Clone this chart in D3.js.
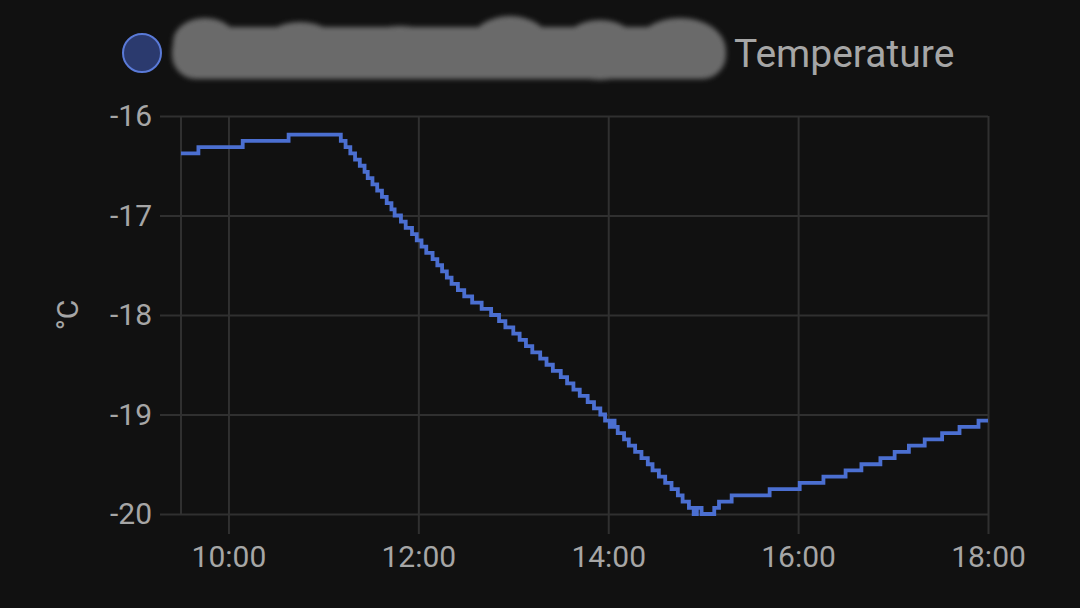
<!DOCTYPE html>
<html>
<head>
<meta charset="utf-8">
<script src="https://cdn.jsdelivr.net/npm/d3@7"></script>
<style>
  html, body { margin: 0; padding: 0; background: #111111; }
  svg { display: block; }
  text { font-family: Roboto, "Noto Sans", sans-serif; }
</style>
</head>
<body>
<svg id="chart" width="1080" height="608"></svg>
<script>
// ---- data ----
const seriesName = "Temperature";
const unitLabel = "°C";
const stepTimes = [
  "09:30","09:41","10:09","10:38","11:11","11:14","11:17","11:20","11:23","11:26",
  "11:28","11:31","11:34","11:37","11:40","11:43","11:45","11:49","11:52","11:56",
  "11:59","12:02","12:05","12:09","12:12","12:15","12:18","12:21","12:25","12:29",
  "12:34","12:40","12:46","12:51","12:55","13:00","13:04","13:08","13:12","13:17",
  "13:21","13:25","13:30","13:34","13:38","13:42","13:47","13:51","13:55","13:58",
  "14:01","14:03","14:04","14:06","14:10","14:13","14:17","14:21","14:25","14:28",
  "14:32","14:36","14:40","14:44","14:47","14:51","14:54","14:56","14:59","15:07",
  "15:10","15:18","15:42","16:01","16:16","16:30","16:40","16:52","17:01","17:10",
  "17:20","17:31","17:42","17:54","18:00"
];
const stepValues = [
  -16.375,-16.3125,-16.25,-16.1875,-16.25,-16.3125,-16.375,-16.4375,-16.5,-16.5625,
  -16.625,-16.6875,-16.75,-16.8125,-16.875,-16.9375,-17.0,-17.0625,-17.125,-17.1875,
  -17.25,-17.3125,-17.375,-17.4375,-17.5,-17.5625,-17.625,-17.6875,-17.75,-17.8125,
  -17.875,-17.9375,-18.0,-18.0625,-18.125,-18.1875,-18.25,-18.3125,-18.375,-18.4375,
  -18.5,-18.5625,-18.625,-18.6875,-18.75,-18.8125,-18.875,-18.9375,-19.0,-19.0625,
  -19.125,-19.0625,-19.125,-19.1875,-19.25,-19.3125,-19.375,-19.4375,-19.5,-19.5625,
  -19.625,-19.6875,-19.75,-19.8125,-19.875,-19.9375,-20.0,-19.9375,-20.0,-19.9375,
  -19.875,-19.8125,-19.75,-19.6875,-19.625,-19.5625,-19.5,-19.4375,-19.375,-19.3125,
  -19.25,-19.1875,-19.125,-19.0625,-19.0625
];
const xDomain = ["09:30", "18:00"];
const xTickLabels = ["10:00","12:00","14:00","16:00","18:00"];
const yDomain = [-20, -16];
const yTickValues = [-16, -17, -18, -19, -20];

// ---- helpers ----
const parseT = s => { const [h, m] = s.split(":").map(Number); return new Date(2024, 0, 1, h, m); };
const data = stepTimes.map((t, i) => ({ t: parseT(t), v: stepValues[i] }));

const svg = d3.select("#chart");
const plot = { left: 181, right: 988, top: 116, bottom: 514 };
const gridColor = "#303030";
const textColor = "#a6a6a6";
const lineColor = "#4b6fd1";

const x = d3.scaleTime().domain(xDomain.map(parseT)).range([plot.left, plot.right]);
const y = d3.scaleLinear().domain(yDomain).range([plot.bottom, plot.top]);

// horizontal grid + left ticks
const yGrid = svg.append("g").attr("transform", `translate(${plot.left},0)`)
  .call(d3.axisLeft(y).tickValues(yTickValues).tickSize(-(plot.right - plot.left)).tickFormat(""));
yGrid.select(".domain").remove();
yGrid.selectAll("line").attr("stroke", gridColor).attr("stroke-width", 2);

const yAxis = svg.append("g").attr("transform", `translate(${plot.left},0)`)
  .call(d3.axisLeft(y).tickValues(yTickValues).tickSize(21).tickPadding(8).tickFormat(d => String(d)));
yAxis.select(".domain").remove();
yAxis.selectAll("line").attr("stroke", gridColor).attr("stroke-width", 2);
yAxis.selectAll("text").attr("fill", textColor).attr("font-size", 30);

// vertical grid + bottom ticks
const xTicks = xTickLabels.map(parseT);
const xGrid = svg.append("g").attr("transform", `translate(0,${plot.bottom})`)
  .call(d3.axisBottom(x).tickValues(xTicks).tickSize(-(plot.bottom - plot.top)).tickFormat(""));
xGrid.select(".domain").remove();
xGrid.selectAll("line").attr("stroke", gridColor).attr("stroke-width", 2);

const xAxis = svg.append("g").attr("transform", `translate(0,${plot.bottom})`)
  .call(d3.axisBottom(x).tickValues(xTicks).tickSize(20).tickPadding(12).tickFormat(d3.timeFormat("%H:%M")));
xAxis.select(".domain").remove();
xAxis.selectAll("line").attr("stroke", gridColor).attr("stroke-width", 2);
xAxis.selectAll("text").attr("fill", textColor).attr("font-size", 30);

// left border
svg.append("line")
  .attr("x1", plot.left).attr("x2", plot.left)
  .attr("y1", plot.top).attr("y2", plot.bottom)
  .attr("stroke", gridColor).attr("stroke-width", 2);

// y title
svg.append("text")
  .attr("transform", `translate(78,${(plot.top + plot.bottom) / 2}) rotate(-90)`)
  .attr("text-anchor", "middle")
  .attr("fill", textColor).attr("font-size", 30)
  .text(unitLabel);

// line
const line = d3.line().x(d => x(d.t)).y(d => y(d.v)).curve(d3.curveStepAfter);
svg.append("path").datum(data)
  .attr("d", line)
  .attr("fill", "none")
  .attr("stroke", lineColor)
  .attr("stroke-width", 3.8);

// legend
const defs = svg.append("defs");
defs.append("filter").attr("id", "blur").attr("x", "-20%").attr("y", "-50%").attr("width", "140%").attr("height", "200%")
  .append("feGaussianBlur").attr("stdDeviation", 2.5);

svg.append("circle").attr("cx", 142).attr("cy", 53).attr("r", 19)
  .attr("fill", "#2b3a6e").attr("stroke", "#5a7ad8").attr("stroke-width", 2);

const blob = svg.append("g").attr("filter", "url(#blur)").attr("fill", "#6b6b6b");
blob.append("rect").attr("x", 172).attr("y", 27).attr("width", 554).attr("height", 52).attr("rx", 24);
[[205, 42, 32, 24], [300, 48, 40, 26], [400, 52, 45, 26], [510, 44, 40, 28], [600, 50, 40, 30], [680, 48, 45, 30]]
  .forEach(e => blob.append("ellipse").attr("cx", e[0]).attr("cy", e[1]).attr("rx", e[2]).attr("ry", e[3]));

svg.append("text").attr("x", 734).attr("y", 53).attr("dy", "0.35em")
  .attr("fill", textColor).attr("font-size", 39)
  .text(seriesName);
</script>
</body>
</html>
